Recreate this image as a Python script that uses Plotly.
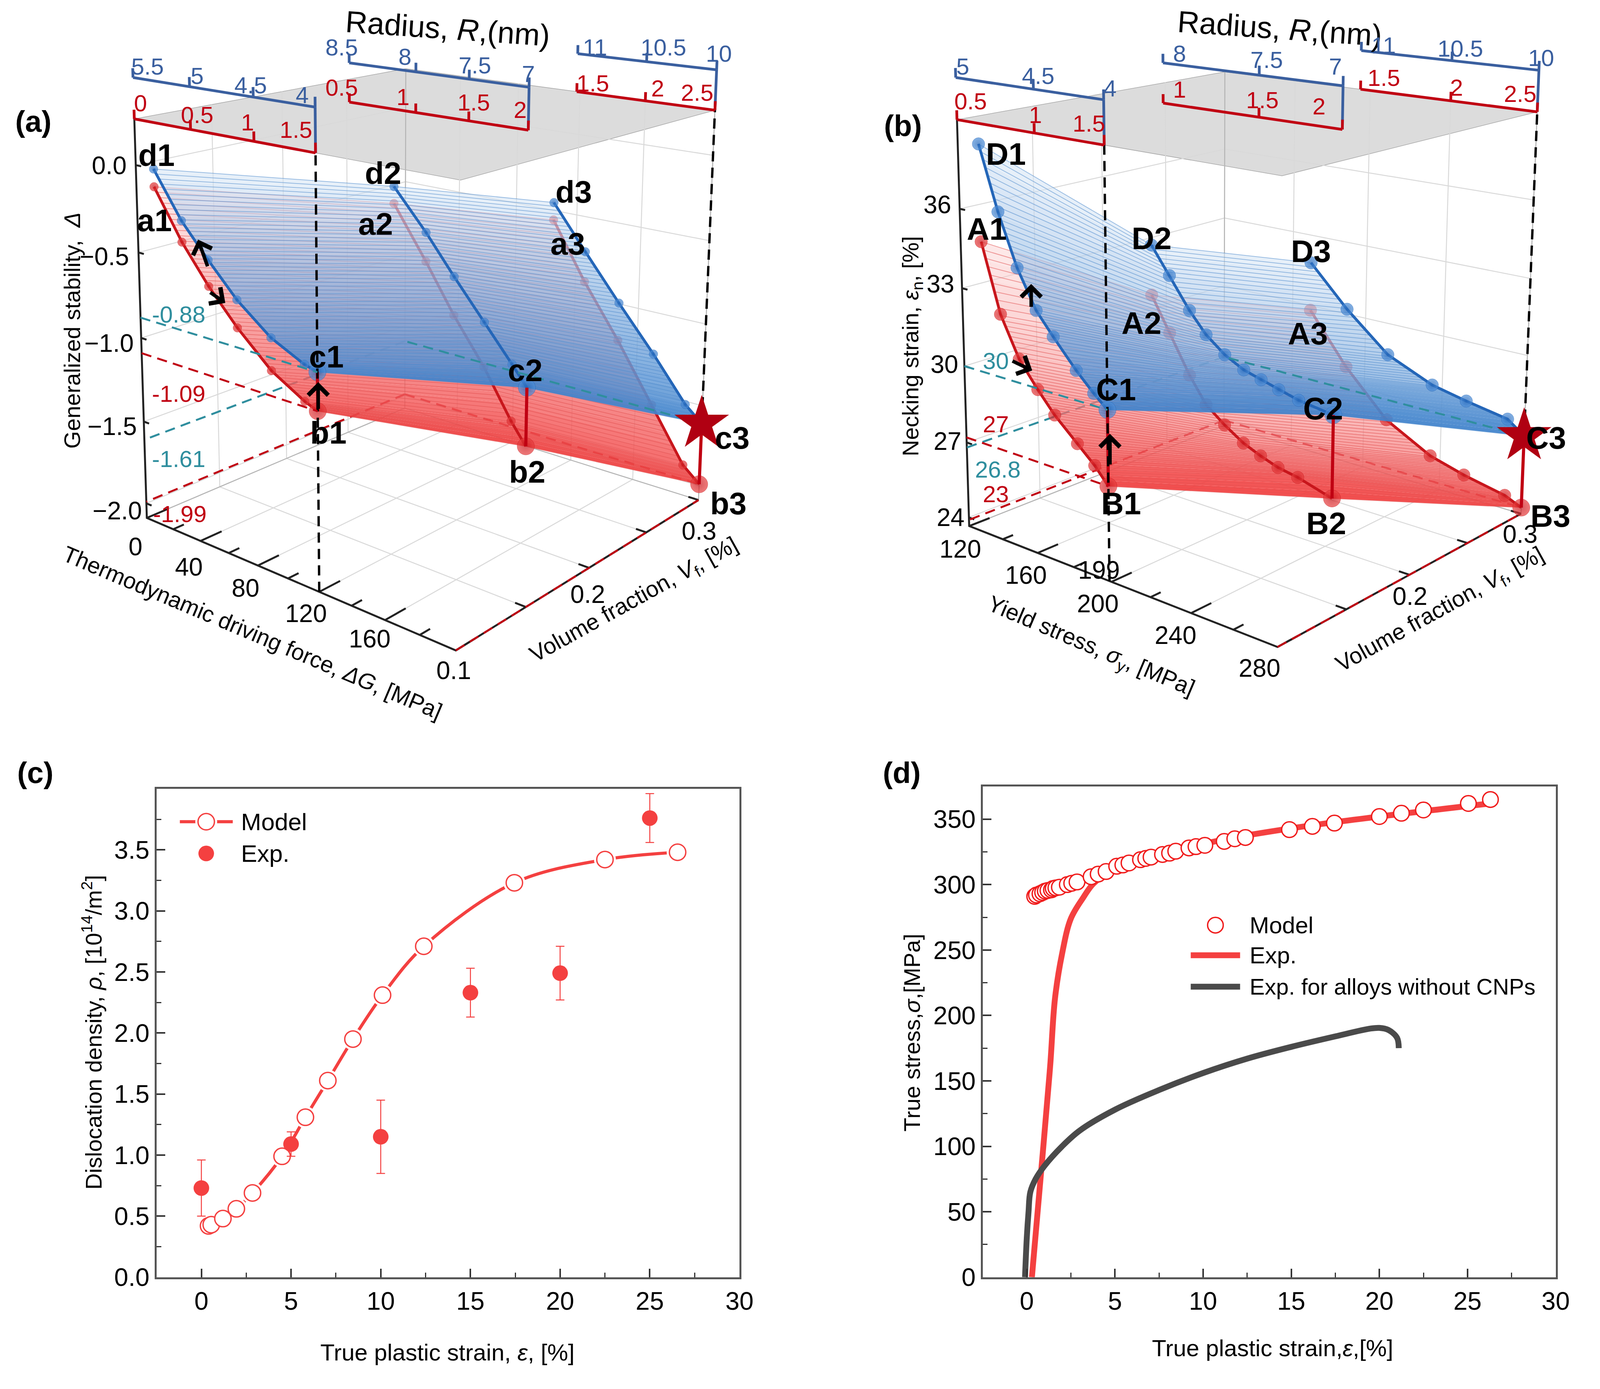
import numpy as np
import plotly.graph_objects as go

W, H = 4284, 3557
FIG_W = 4090
RED = "#c00012"
BLUE = "#3a5f9f"
TEAL = "#2f8e9e"
CRED = "#f44040"
FONT = "Liberation Sans"
PX = 2.732

# ---------- panel (a) data: (driving force, volume fraction, stability)
a_vf = [0.1, 0.2, 0.3]
a_x1 = [13, 32, 50, 69, 91, 112, 120]
a_top1 = [0.0, -0.255, -0.437, -0.615, -0.77, -0.86, -0.88]
a_low1 = [-0.10, -0.375, -0.584, -0.77, -0.95, -1.06, -1.09]
a_x2 = [78, 99, 117, 136, 153, 162]
a_top2 = [-0.19, -0.42, -0.64, -0.86, -1.06, -1.17]
a_low2 = [-0.29, -0.59, -0.865, -1.12, -1.39, -1.51]
a_x3 = [105, 126, 148, 170, 190, 200]
a_top3 = [-0.45, -0.72, -0.995, -1.26, -1.52, -1.61]
a_low3 = [-0.56, -0.91, -1.23, -1.58, -1.90, -1.99]
a_xticks = [0, 40, 80, 120, 160, 200]
a_zticks = [0.0, -0.5, -1.0, -1.5, -2.0]
a_scale_pos = [[0, 40, 82, 120], [48, 92, 125, 160], [118, 160, 200]]
a_view = [(145, 496), (129, 109), (447, 607), (452, 164), (690, 477), (705, 103), (395, 375), (400, 64)]

# ---------- panel (b) data: (yield stress, volume fraction, necking strain)
b_vf = [0.1, 0.2, 0.3]
b_x1 = [132, 142, 152, 162, 171, 183, 192, 199]
b_top1 = [38.55, 36.2, 34.3, 32.9, 32.1, 31.1, 30.45, 30.0]
b_low1 = [34.95, 32.4, 30.9, 29.96, 29.2, 28.4, 27.8, 27.2]
b_x2 = [148, 158, 169, 178, 188, 198, 207, 216, 226, 243]
b_top2 = [33.66, 32.6, 31.4, 30.6, 30.0, 29.6, 29.4, 29.2, 29.0, 28.8]
b_low2 = [31.65, 30.3, 28.8, 27.8, 27.2, 26.7, 26.4, 26.15, 26.0, 25.6]
b_x3 = [170, 190, 212, 235, 252, 272, 280]
b_top3 = [31.83, 30.2, 28.7, 27.9, 27.6, 27.3, 26.8]
b_low3 = [29.8, 27.75, 25.95, 24.95, 24.55, 24.2, 23.9]
b_xticks = [120, 160, 200, 240, 280]
b_zticks = [24, 27, 30, 33, 36]
b_scale_pos = [[120, 163, 199], [155, 205, 245], [195, 240, 280]]
b_view = [(959, 497), (943, 109), (1262, 609), (1265, 164), (1505, 484), (1518, 103), (1205, 399), (1213, 66)]

# ---------- panel (c) data
c_model_x = [0.4, 0.55, 1.2, 1.95, 2.85, 4.5, 5.8, 7.05, 8.45, 10.1, 12.4, 17.45, 22.5, 26.55]
c_model_y = [0.42, 0.43, 0.48, 0.56, 0.69, 0.99, 1.31, 1.61, 1.95, 2.31, 2.71, 3.23, 3.42, 3.48]
c_exp_x = [0, 5, 10, 15, 20, 25]
c_exp_y = [0.73, 1.09, 1.15, 2.33, 2.49, 3.76]
c_exp_err = [0.23, 0.10, 0.30, 0.20, 0.22, 0.20]

# ---------- panel (d) data
d_model_x = [0.45, 0.55, 0.75, 0.9, 1.05, 1.2, 1.4, 1.5, 1.65, 1.85, 2.3, 2.55, 2.85, 3.65, 4.05, 4.5,
             5.1, 5.45, 5.8, 6.45, 6.75, 7.05, 7.7, 8.1, 8.45, 9.2, 9.6, 10.1, 11.2, 11.8, 12.4,
             14.9, 16.2, 17.45, 20, 21.25, 22.5, 25.05, 26.3]
d_model_y = [291, 292, 293, 294, 295, 295.5, 296, 297, 297.5, 298, 300, 301, 302, 306, 308, 310,
             314, 315, 316.5, 319, 320, 321, 323, 324, 325.5, 328, 329, 330, 333, 335, 336,
             342, 344.5, 347, 352, 354.5, 357, 362, 365]
d_exp_x = [0.29, 0.94, 1.33, 1.6, 2.0, 2.5, 3.2, 3.8, 5, 10, 15, 20, 26.3]
d_exp_y = [0, 100, 162, 213, 247, 274, 290, 301, 312, 331, 343, 352, 362]
d_base_x = [-0.1, 0.0, 0.1, 0.2, 0.5, 1, 2, 3, 5, 7.5, 10, 12.5, 15, 17.5, 19.5, 20, 20.5, 21, 21.1]
d_base_y = [0, 30, 50, 65, 75, 85, 100, 112, 128, 143, 156, 167, 176, 184, 190, 190.5, 189, 183, 175]

# ---------- text of panels (a), (b): label, centre position on the page
a_labels = [("0", 131, 515), ("40", 184, 534), ("80", 240, 554), ("120", 300, 578), ("160", 363, 602), ("0.1", 446, 632),
            ("0.2", 579, 560), ("0.3", 689, 500), ("0.0", 105, 154), ("\u22120.5", 100, 240), ("\u22121.0", 105, 322),
            ("\u22121.5", 108, 401), ("\u22122.0", 113, 481)]
a_red = [("0", 136, 95), ("0.5", 192, 106), ("1", 242, 113), ("1.5", 290, 120), ("0.5", 335, 80), ("1", 396, 89),
         ("1.5", 466, 94), ("2", 512, 101), ("1.5", 584, 76), ("2", 648, 81), ("2.5", 687, 85),
         ("-1.09", 174, 370), ("-1.99", 175, 484)]
a_blue = [("5.5", 143, 60), ("5", 192, 69), ("4.5", 245, 78), ("4", 296, 87), ("8.5", 335, 42), ("8", 398, 51),
          ("7.5", 467, 59), ("7", 520, 67), ("11", 586, 42), ("10.5", 654, 42), ("10", 709, 48)]
a_teal = [("-0.88", 174, 295), ("-1.61", 174, 432)]
a_points = [("d1", 152, 144), ("a1", 150, 206), ("d2", 376, 161), ("a2", 369, 209), ("d3", 565, 179), ("a3", 559, 228),
            ("c1", 320, 335), ("b1", 322, 407), ("c2", 517, 348), ("b2", 519, 444), ("c3", 722, 412), ("b3", 718, 474)]
b_labels = [("120", 948, 517), ("160", 1013, 542), ("199", 1085, 537), ("200", 1084, 569), ("240", 1161, 599),
            ("280", 1244, 630), ("0.2", 1393, 562), ("0.3", 1502, 503), ("36", 925, 191), ("33", 928, 266),
            ("30", 932, 342), ("27", 935, 415), ("24", 938, 487)]
b_red = [("0.5", 958, 93), ("1", 1022, 106), ("1.5", 1075, 114), ("1", 1165, 82), ("1.5", 1247, 92), ("2", 1303, 98),
         ("1.5", 1367, 71), ("2", 1439, 80), ("2.5", 1502, 86), ("27", 983, 399), ("23", 983, 465)]
b_blue = [("5", 950, 60), ("4.5", 1025, 69), ("4", 1096, 81), ("8", 1165, 48), ("7.5", 1251, 54), ("7", 1319, 60),
          ("11", 1367, 40), ("10.5", 1443, 43), ("10", 1523, 52)]
b_teal = [("30", 983, 339), ("26.8", 985, 442)]
b_points = [("D1", 993, 143), ("A1", 974, 214), ("D2", 1137, 223), ("A2", 1127, 303), ("D3", 1295, 235), ("A3", 1292, 313),
            ("C1", 1102, 366), ("B1", 1107, 474), ("C2", 1307, 384), ("B2", 1310, 493), ("C3", 1528, 412), ("B3", 1532, 486)]
arrows = [(193, 224, 25, 70), (220, 284, -40, -28), (312, 359, 0, 70),
          (1018, 266, 0, 60), (1019, 348, -52, -25), (1096, 408, 0, 80)]

fig = go.Figure()


def resample(c, p):
    return np.interp(p * (len(c) - 1), np.arange(len(c)), c)


class View:
    """Perspective camera of a panel, solved from where the eight corners of its box sit."""

    def __init__(self, xr, vr, zr, corners):
        self.lo = np.array([xr[0], vr[0], zr[0]], float)
        self.sp = np.array([xr[1] - xr[0], vr[1] - vr[0], zr[1] - zr[0]], float)
        world = [(0, 0, 0), (0, 0, 1), (1, 0, 0), (1, 0, 1), (1, 1, 0), (1, 1, 1), (0, 1, 0), (0, 1, 1)]
        A = []
        for (a, b, c), (u, v) in zip(world, corners):
            A.append([a, b, c, 1, 0, 0, 0, 0, -u * a, -u * b, -u * c, -u])
            A.append([0, 0, 0, 0, a, b, c, 1, -v * a, -v * b, -v * c, -v])
        self.M = np.linalg.svd(np.array(A, float))[2][-1].reshape(3, 4)

    def __call__(self, pts):
        p = (np.atleast_2d(np.array(pts, float)) - self.lo) / self.sp
        q = self.M @ np.column_stack([p, np.ones(len(p))]).T
        return q[0] / q[2], q[1] / q[2]


def trace_paths(view, paths, color, width, dash=None):
    X, Y = [], []
    for p in paths:
        u, v = view(p)
        X += list(u) + [None]; Y += list(v) + [None]
    ln = dict(color=color, width=width)
    if dash:
        ln["dash"] = dash
    fig.add_trace(go.Scatter(x=X, y=Y, mode="lines", line=ln, xaxis="x3", yaxis="y3", showlegend=False, hoverinfo="skip"))


def sheet(view, vf, xs, zs, rib, c0, c1, bands=26):
    c0, c1 = np.array(c0, float), np.array(c1, float)
    p = np.linspace(0, 1, bands + 1)
    R = [view(np.column_stack([resample(c, p), np.full(len(p), v), resample(z, p)])) for c, v, z in zip(xs, vf, zs)]
    for m in range(bands):
        X, Y = [], []
        for r in range(2):
            X += [R[r][0][m], R[r][0][m + 1], R[r + 1][0][m + 1], R[r + 1][0][m], R[r][0][m], None]
            Y += [R[r][1][m], R[r][1][m + 1], R[r + 1][1][m + 1], R[r + 1][1][m], R[r][1][m], None]
        q = c0 + (c1 - c0) * ((m + 0.5) / bands) ** 0.8
        fig.add_trace(go.Scatter(x=X, y=Y, mode="lines", fill="toself", line=dict(width=0),
                                 fillcolor="rgba(%d,%d,%d,%.3f)" % tuple(q), xaxis="x3", yaxis="y3",
                                 showlegend=False, hoverinfo="skip"))
    t = np.linspace(0, 1, 62)
    S = [np.column_stack([resample(c, t), np.full(len(t), v), resample(z, t)]) for c, v, z in zip(xs, vf, zs)]
    trace_paths(view, [[S[0][m], S[1][m], S[2][m]] for m in range(len(t))], rib, 2)


def curves(view, vf, xs, zs, color, light, small):
    for c, v, z in zip(xs, vf, zs):
        u, w = view(np.column_stack([c, np.full(len(c), v), z]))
        fig.add_trace(go.Scatter(x=u, y=w, mode="lines+markers", xaxis="x3", yaxis="y3", showlegend=False, hoverinfo="skip",
                                 line=dict(color=color, width=7),
                                 marker=dict(size=[small] * (len(c) - 1) + [44], color=light,
                                             gradient=dict(type="radial", color=color))))


def panel(xr, z0, ztop, vf, xs, tops, lows, xticks, zticks, xminor, scales_pos, small, corners):
    x0, x1 = xr
    dz = ztop - z0
    v0, v1 = vf[0], vf[-1]
    view = View(xr, (v0, v1), (z0, ztop), corners)
    u, w = view([(x0, v0, ztop), (x1, v0, ztop), (x1, v1, ztop), (x0, v1, ztop), (x0, v0, ztop)])
    fig.add_trace(go.Scatter(x=u, y=w, mode="lines", fill="toself", fillcolor="#dcdcdc", line=dict(width=1.5, color="#a8a8a8"),
                             xaxis="x3", yaxis="y3", showlegend=False, hoverinfo="skip"))
    paths = []
    for t in xticks:
        paths.append([(t, v0, z0), (t, v1, z0), (t, v1, ztop)])
    for v in [0.15, 0.2, 0.25]:
        paths.append([(x0, v, ztop), (x0, v, z0), (x1, v, z0)])
    for t in zticks:
        paths.append([(x0, v0, t), (x0, v1, t), (x1, v1, t)])
    trace_paths(view, paths, "#d9d9d9", 2.5)
    trace_paths(view, [[(x0, v1, z0), (x0, v1, ztop)], [(x0, v1, z0), (x1, v1, z0), (x1, v1, ztop)], [(x0, v0, z0), (x0, v1, z0)]],
                "#b4b4b4", 2.5)
    tk = [[(x0, v0, ztop), (x0, v0, z0), (x1, v0, z0), (x1, v1, z0)]]
    for t in xminor:
        tk.append([(t, v0, z0), (t, v0 + 0.007, z0)])
    for t in xticks:
        tk.append([(t, v0, z0), (t, v0 + 0.014, z0)])
    for v in [0.15, 0.2, 0.25, 0.3]:
        tk.append([(x1, v, z0), (x1 - (x1 - x0) * 0.03, v, z0)])
    for t in zticks:
        tk.append([(x0, v0, t), (x0 + (x1 - x0) * 0.02, v0, t)])
    trace_paths(view, tk, "#222222", 5)
    trace_paths(view, [[(x0, v1, lows[2][-1]), (xs[2][-1], v1, lows[2][-1])], [(x0, v1, lows[2][-1]), (x0, v0, lows[2][-1])]],
                RED, 5, "26px,16px")
    trace_paths(view, [[(x0, v1, tops[2][-1]), (x0, v0, tops[2][-1])]], TEAL, 5, "26px,16px")
    sheet(view, vf, xs, lows, "rgba(225,80,80,0.55)", (252, 214, 214, 0.45), (242, 60, 60, 0.92))
    curves(view, vf, xs, lows, "#c8161c", "#e84040", small)
    sheet(view, vf, xs, tops, "rgba(80,140,205,0.55)", (222, 234, 247, 0.58), (59, 128, 204, 0.92))
    curves(view, vf, xs, tops, "#2466b8", "#4f90da", small)
    trace_paths(view, [[(xs[i][-1], vf[i], lows[i][-1]), (xs[i][-1], vf[i], tops[i][-1])] for i in range(3)], RED, 8)
    trace_paths(view, [[(xs[0][-1], vf[0], z0), (xs[0][-1], vf[0], ztop)],
                       [(xs[2][-1], vf[2], tops[2][-1]), (xs[2][-1], vf[2], ztop)]], "#000000", 6, "26px,16px")
    trace_paths(view, [[(x0, v0, tops[0][-1]), (xs[0][-1], v0, tops[0][-1])],
                       [(xs[2][-1], v1, tops[2][-1]), (x0, v1, tops[2][-1])]], TEAL, 5, "26px,16px")
    trace_paths(view, [[(x0, v0, lows[0][-1]), (xs[0][-1], v0, lows[0][-1])], [(x1, v0, z0), (x1, v1, z0)]], RED, 5, "26px,16px")
    off = dz * 0.098
    tick = dz * 0.022
    red, blue = [], []
    for i in range(3):
        p = scales_pos[i]
        v = vf[i]
        red.append([(t, v, ztop) for t in p])
        blue.append([(t, v, ztop + off) for t in p])
        for t in p:
            red.append([(t, v, ztop), (t, v, ztop + tick)])
            blue.append([(t, v, ztop + off), (t, v, ztop + off + tick)])
        blue.append([(p[-1], v, ztop), (p[-1], v, ztop + off)])
    trace_paths(view, blue, BLUE, 7)
    trace_paths(view, red, RED, 7)
    u, w = view([(xs[2][-1], vf[2], tops[2][-1])])
    fig.add_trace(go.Scatter(x=u, y=w, mode="markers", marker=dict(symbol="star", size=105, color="#b00012"),
                             xaxis="x3", yaxis="y3", showlegend=False, hoverinfo="skip"))


panel([0, 200], -2.09, 0.26, a_vf, [a_x1, a_x2, a_x3], [a_top1, a_top2, a_top3], [a_low1, a_low2, a_low3],
      a_xticks, a_zticks, [20, 60, 100, 140, 180], a_scale_pos, 22, a_view)
panel([120, 280], 23.65, 39.3, b_vf, [b_x1, b_x2, b_x3], [b_top1, b_top2, b_top3], [b_low1, b_low2, b_low3],
      b_xticks, b_zticks, [140, 180, 220, 260], b_scale_pos, 32, b_view)

line_w = 8
fig.add_trace(go.Scatter(x=c_model_x, y=c_model_y, mode="lines", line=dict(color=CRED, width=line_w, shape="spline"),
                         xaxis="x", yaxis="y", showlegend=False))
fig.add_trace(go.Scatter(x=c_model_x, y=c_model_y, mode="markers", marker=dict(size=56, color="white"),
                         xaxis="x", yaxis="y", showlegend=False))
fig.add_trace(go.Scatter(x=c_model_x, y=c_model_y, mode="markers", name="Model",
                         marker=dict(size=42, color="white", line=dict(color=CRED, width=3.5)),
                         xaxis="x", yaxis="y", showlegend=False))
fig.add_trace(go.Scatter(x=c_exp_x, y=c_exp_y, mode="markers", name="Exp.", marker=dict(size=40, color=CRED),
                         error_y=dict(type="data", array=c_exp_err, color=CRED, thickness=2.5, width=11),
                         xaxis="x", yaxis="y", showlegend=False))
fig.add_trace(go.Scatter(x=[-1.2, 1.75], y=[3.73, 3.73], mode="lines", line=dict(color=CRED, width=line_w),
                         xaxis="x", yaxis="y", showlegend=False))
fig.add_trace(go.Scatter(x=[0.27], y=[3.73], mode="markers", marker=dict(size=56, color="white"),
                         xaxis="x", yaxis="y", showlegend=False))
fig.add_trace(go.Scatter(x=[0.27], y=[3.73], mode="markers",
                         marker=dict(size=42, color="white", line=dict(color=CRED, width=3.5)),
                         xaxis="x", yaxis="y", showlegend=False))
fig.add_trace(go.Scatter(x=[0.27], y=[3.47], mode="markers", marker=dict(size=40, color=CRED),
                         xaxis="x", yaxis="y", showlegend=False))

fig.add_trace(go.Scatter(x=d_exp_x, y=d_exp_y, mode="lines", line=dict(color=CRED, width=15, shape="spline"),
                         xaxis="x2", yaxis="y2", showlegend=False))
fig.add_trace(go.Scatter(x=d_base_x, y=d_base_y, mode="lines", line=dict(color="#4a4a4a", width=15, shape="spline"),
                         xaxis="x2", yaxis="y2", showlegend=False))
fig.add_trace(go.Scatter(x=d_model_x, y=d_model_y, mode="markers",
                         marker=dict(size=40, color="white", line=dict(color="#f01c1c", width=3.5)),
                         xaxis="x2", yaxis="y2", showlegend=False))
fig.add_trace(go.Scatter(x=[10.7], y=[269], mode="markers",
                         marker=dict(size=40, color="white", line=dict(color="#f01c1c", width=3.5)),
                         xaxis="x2", yaxis="y2", showlegend=False))
fig.add_trace(go.Scatter(x=[9.3, 12.1], y=[246, 246], mode="lines", line=dict(color=CRED, width=15),
                         xaxis="x2", yaxis="y2", showlegend=False))
fig.add_trace(go.Scatter(x=[9.3, 12.1], y=[222, 222], mode="lines", line=dict(color="#4a4a4a", width=15),
                         xaxis="x2", yaxis="y2", showlegend=False))

ax = dict(showline=True, linecolor="#555555", linewidth=5, mirror=True, showgrid=False, zeroline=False, ticks="inside",
          ticklen=22, tickwidth=4, tickcolor="#333333", tickfont=dict(family=FONT, size=65, color="#000"))
mn = dict(ticks="inside", ticklen=12, tickwidth=3, tickcolor="#333333")
fig.update_layout(
    xaxis=dict(domain=[415 / W, 1992 / W], range=[-2.5, 30], anchor="y", dtick=5, minor=dict(mn, dtick=2.5), **ax),
    yaxis=dict(domain=[1 - 3297 / H, 1 - 2033 / H], range=[0, 4], anchor="x", tickvals=[0, .5, 1, 1.5, 2, 2.5, 3, 3.5],
               ticktext=["0.0", "0.5", "1.0", "1.5", "2.0", "2.5", "3.0", "3.5"], minor=dict(mn, dtick=0.25), **ax),
    xaxis2=dict(domain=[2650 / W, 4200 / W], range=[-2.5, 30], anchor="y2", dtick=5, minor=dict(mn, dtick=2.5), **ax),
    yaxis2=dict(domain=[1 - 3297 / H, 1 - 2027 / H], range=[0, 375], anchor="x2", tickvals=[0, 50, 100, 150, 200, 250, 300, 350],
                minor=dict(mn, dtick=25), **ax),
    xaxis3=dict(domain=[0, 1], range=[0, W / PX], visible=False, anchor="y3", fixedrange=True),
    yaxis3=dict(domain=[0, 1], range=[H / PX, 0], visible=False, anchor="x3", fixedrange=True),
)


def paper(px, py, text, size=62, angle=0, bold=False, color="#000"):
    return dict(xref="paper", yref="paper", x=px * PX / W, y=1 - py * PX / H, text=("<b>%s</b>" % text) if bold else text,
                showarrow=False, textangle=angle, xanchor="center", yanchor="middle",
                font=dict(family=FONT, size=size, color=color))


def d2(x, y, text, size=62, xr="x", yr="y"):
    return dict(xref=xr, yref=yr, x=x, y=y, text=text, showarrow=False, xanchor="left", yanchor="middle",
                font=dict(family=FONT, size=size, color="#000"))


texts = [
    paper(30, 112, "(a)", 76, bold=True), paper(891, 116, "(b)", 76, bold=True),
    paper(32, 729, "(c)", 76, bold=True), paper(890, 729, "(d)", 76, bold=True),
    paper(440, 24, "Radius, <i>R</i>,(nm)", 78, angle=4), paper(1264, 24, "Radius, <i>R</i>,(nm)", 78, angle=4),
    paper(68, 310, "Generalized stability,  <i>\u0394</i>", 58, angle=-90),
    paper(247, 596, "Thermodynamic driving force, <i>\u0394G</i>, [MPa]", 58, angle=23),
    paper(625, 566, "Volume fraction, <i>V</i><sub>f</sub>, [%]", 58, angle=-29),
    paper(900, 325, "Necking strain, <i>\u03b5</i><sub>n</sub>, [%]", 58, angle=-90),
    paper(1077, 610, "Yield stress, <i>\u03c3</i><sub>y</sub>, [MPa]", 58, angle=23),
    paper(1423, 575, "Volume fraction, <i>V</i><sub>f</sub>, [%]", 58, angle=-29),
    paper(88, 975, "Dislocation density, <i>\u03c1</i>, [10<sup>14</sup>/m<sup>2</sup>]", 58, angle=-90),
    paper(440, 1278, "True plastic strain, <i>\u03b5</i>, [%]", 60),
    paper(900, 975, "True stress,<i>\u03c3</i>,[MPa]", 58, angle=-90),
    paper(1257, 1274, "True plastic strain,<i>\u03b5</i>,[%]", 60),
    d2(2.17, 3.73, "Model"), d2(2.17, 3.47, "Exp."),
    d2(12.6, 269, "Model", 60, xr="x2", yr="y2"), d2(12.6, 246, "Exp.", 60, xr="x2", yr="y2"),
    d2(12.6, 222, "Exp. for alloys without CNPs", 58, xr="x2", yr="y2"),
]
for group, size, color, bold in [(a_labels + b_labels, 64, "#000", False), (a_red + b_red, 60, RED, False),
                                 (a_blue + b_blue, 60, BLUE, False), (a_teal + b_teal, 60, TEAL, False),
                                 (a_points + b_points, 80, "#000", True)]:
    texts += [paper(x, y, t, size, color=color, bold=bold) for t, x, y in group]
for x, y, dx, dy in arrows:
    texts.append(dict(xref="paper", yref="paper", x=x * PX / W, y=1 - y * PX / H, text="", showarrow=True, ax=dx, ay=dy,
                      arrowcolor="#000", arrowwidth=9, arrowhead=4, arrowsize=1.1))
fig.update_layout(annotations=texts, width=FIG_W, height=H, autosize=False, margin=dict(l=0, r=0, t=0, b=0),
                  paper_bgcolor="white", plot_bgcolor="rgba(0,0,0,0)", showlegend=False)
fig.write_html("out.html")
